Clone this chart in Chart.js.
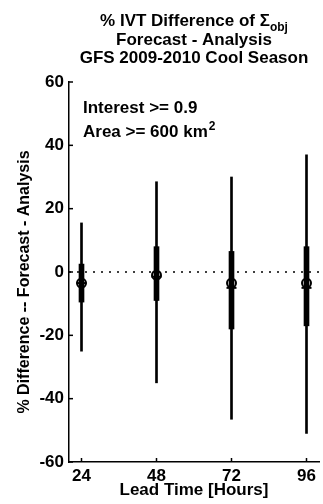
<!DOCTYPE html>
<html>
<head>
<meta charset="utf-8">
<script src="https://cdn.jsdelivr.net/npm/chart.js@4"></script>
<style>
  html, body { margin: 0; padding: 0; background: #fff; overflow: hidden; }
  #wrap { width: 326px; height: 504px; }
</style>
</head>
<body>
<div id="wrap"><canvas id="ivt"></canvas></div>
<script>
// lead times (hours)
var leadTimes = [24, 48, 72, 96];
// whisker ends
var whiskerLow = [-25, -35, -46.5, -51];
var whiskerHigh = [15.5, 28.5, 30, 37];
// thick box (inner range)
var boxLow = [-9.5, -9, -18, -17];
var boxHigh = [2.5, 8, 6.5, 8];
// circle = mean, dash = median
var meanVals = [-3.5, -1, -3.5, -3.5];
var medianVals = [-3.5, -1.5, -5, -5];
// dotted reference line
var refX = [20, 100];
var refY = [0, 0];
var yTicks = [-60, -40, -20, 0, 20, 40, 60];

var FONT = '"Liberation Sans", Arial, sans-serif';

function pts(ys) {
  return leadTimes.map(function (x, i) { return { x: x, y: ys[i] }; });
}
function ranges(lo, hi) {
  return leadTimes.map(function (x, i) { return { x: x, y: [lo[i], hi[i]] }; });
}

var extras = {
  id: 'extras',
  afterDraw: function (chart) {
    var c = chart.ctx, a = chart.chartArea;
    var xs = chart.scales.x, ys = chart.scales.y;
    c.save();
    c.strokeStyle = '#000';
    c.lineWidth = 1.5;
    // inward ticks
    yTicks.forEach(function (v) {
      var p = ys.getPixelForValue(v);
      c.beginPath(); c.moveTo(a.left, p); c.lineTo(a.left + 4, p); c.stroke();
    });
    leadTimes.forEach(function (v) {
      var p = xs.getPixelForValue(v);
      c.beginPath(); c.moveTo(p, a.bottom); c.lineTo(p, a.bottom - 4); c.stroke();
    });

    // title
    c.fillStyle = '#000';
    c.textBaseline = 'alphabetic';
    var cx = (a.left + a.right) / 2;
    c.font = 'bold 17px ' + FONT;
    var t1 = '% IVT Difference of \u03A3';
    var w1 = c.measureText(t1).width;
    c.font = 'bold 12px ' + FONT;
    var ws = c.measureText('obj').width;
    var x0 = cx - (w1 + ws) / 2;
    c.textAlign = 'left';
    c.font = 'bold 17px ' + FONT;
    c.fillText(t1, x0, 26);
    c.font = 'bold 12px ' + FONT;
    c.fillText('obj', x0 + w1, 31);
    c.textAlign = 'center';
    c.font = 'bold 17px ' + FONT;
    c.fillText('Forecast - Analysis', cx, 45);
    c.fillText('GFS 2009-2010 Cool Season', cx, 63);

    // annotation
    c.textAlign = 'left';
    c.fillText('Interest >= 0.9', 83, 113);
    var t2 = 'Area >= 600 km';
    c.fillText(t2, 83, 137);
    var w2 = c.measureText(t2).width;
    c.font = 'bold 12px ' + FONT;
    c.fillText('2', 83 + w2 + 1, 130);

    // y axis title
    c.translate(25, 282);
    c.rotate(-Math.PI / 2);
    c.textAlign = 'center';
    c.textBaseline = 'middle';
    c.font = 'bold 16px ' + FONT;
    c.fillText('% Difference -- Forecast - Analysis', 0, 0);
    c.restore();
  }
};

new Chart(document.getElementById('ivt'), {
  type: 'bar',
  data: {
    datasets: [
      {
        type: 'line', data: pts(medianVals), showLine: false,
        pointStyle: 'line', pointRadius: 5, pointBorderWidth: 2,
        pointBorderColor: '#000', order: 0
      },
      {
        data: ranges(boxLow, boxHigh), backgroundColor: '#000',
        barThickness: 5, grouped: false, order: 1
      },
      {
        data: ranges(whiskerLow, whiskerHigh), backgroundColor: '#000',
        barThickness: 2, grouped: false, order: 2
      },
      {
        type: 'line', data: pts(meanVals), showLine: false,
        pointStyle: 'circle', pointRadius: 4.5, pointBorderWidth: 2,
        pointBorderColor: '#000', pointBackgroundColor: '#fff', order: 3
      },
      {
        type: 'line', data: refX.map(function (x, i) { return { x: x, y: refY[i] }; }),
        borderColor: '#000', borderWidth: 1.5, borderDash: [2, 6],
        pointRadius: 0, order: 4
      }
    ]
  },
  options: {
    responsive: true,
    maintainAspectRatio: false,
    animation: false,
    layout: { padding: { top: 82, right: 0, left: 0, bottom: 0 } },
    plugins: { legend: { display: false }, tooltip: { enabled: false } },
    scales: {
      x: {
        type: 'linear', min: 20, max: 100, offset: false,
        afterBuildTicks: function (s) { s.ticks = leadTimes.map(function (v) { return { value: v }; }); },
        afterFit: function (s) { s.height = 42; },
        grid: { display: false, drawTicks: false },
        border: { display: true, color: '#000', width: 1.5 },
        ticks: { color: '#000', padding: 4, maxRotation: 0, font: { family: FONT, size: 17, weight: 'bold' } },
        title: {
          display: true, text: 'Lead Time [Hours]', color: '#000',
          padding: { top: 0, bottom: 3 },
          font: { family: FONT, size: 17, weight: 'bold' }
        }
      },
      y: {
        min: -60, max: 60,
        afterBuildTicks: function (s) { s.ticks = yTicks.map(function (v) { return { value: v }; }); },
        afterFit: function (s) { s.width = 69; },
        grid: { display: false, drawTicks: false },
        border: { display: true, color: '#000', width: 1.5 },
        ticks: { color: '#000', padding: 5, font: { family: FONT, size: 17, weight: 'bold' } }
      }
    }
  },
  plugins: [extras]
});
</script>
</body>
</html>
